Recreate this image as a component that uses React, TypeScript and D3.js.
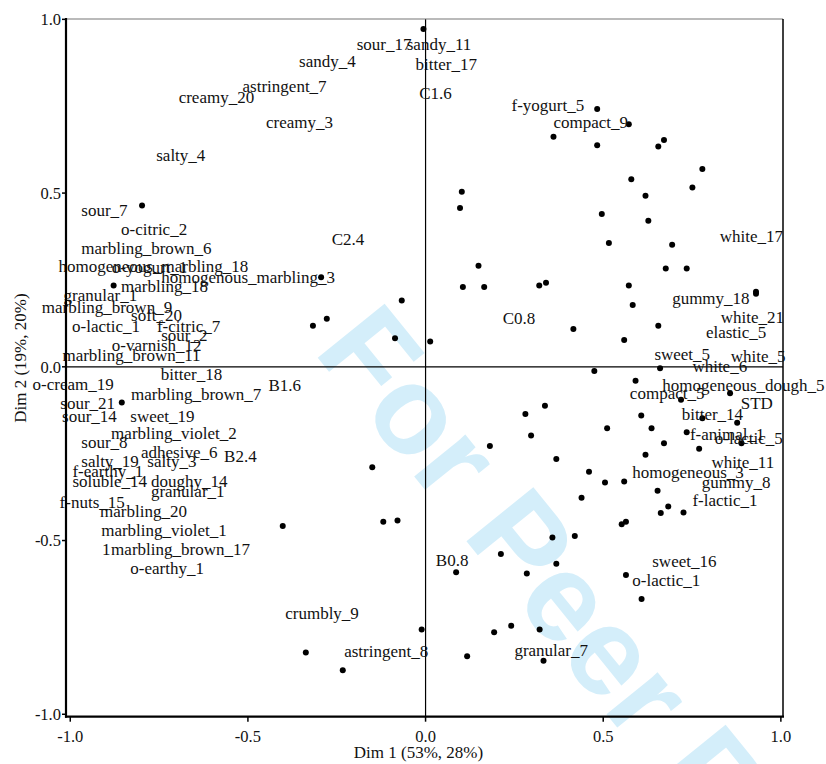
import React from 'react'
import * as d3 from 'd3'

// variable labels (text position = left end of the baseline, in plot units)
const labelText = [
  'sour_17', 'sandy_11', 'bitter_17', 'C1.6', 'sandy_4', 'astringent_7', 'creamy_20', 'creamy_3',
  'salty_4', 'f-yogurt_5', 'compact_9', 'sour_7', 'o-citric_2', 'marbling_brown_6',
  'homogeneous_marbling_18', 'o-yogurt_1', 'homogenous_marbling_3', 'marbling_18', 'granular_1',
  'marbling_brown_9', 'soft_20', 'o-lactic_1', 'f-citric_7', 'sour_2', 'o-varnish_12',
  'marbling_brown_11', 'C2.4', 'bitter_18', 'o-cream_19', 'marbling_brown_7', 'B1.6', 'sour_21',
  'sour_14', 'sweet_19', 'marbling_violet_2', 'sour_8', 'adhesive_6', 'B2.4', 'salty_19', 'salty_3',
  'f-earthy_1', 'soluble_14', 'doughy_14', 'granular_1', 'f-nuts_15', 'marbling_20',
  'marbling_violet_1', '1', 'marbling_brown_17', 'o-earthy_1', 'crumbly_9', 'astringent_8', 'B0.8',
  'sweet_16', 'o-lactic_1', 'granular_7', 'white_17', 'gummy_18', 'C0.8', 'white_21', 'elastic_5',
  'sweet_5', 'white_5', 'white_6', 'homogeneous_dough_5', 'compact_5', 'STD', 'bitter_14',
  'f-animal_1', 'o-lactic_5', 'white_11', 'homogeneous_3', 'gummy_8', 'f-lactic_1',
]
const labelDim1 = [
  -0.194, -0.053, -0.028, -0.018, -0.356, -0.515, -0.695, -0.449,
  -0.758, 0.242, 0.360, -0.969, -0.857, -0.969,
  -1.033, -0.883, -0.744, -0.857, -1.019,
  -1.080, -0.829, -0.995, -0.756, -0.744, -0.883,
  -1.022, -0.264, -0.745, -1.106, -0.829, -0.442, -1.028,
  -1.023, -0.831, -0.885, -0.969, -0.801, -0.567, -0.969, -0.783,
  -0.994, -0.994, -0.773, -0.773, -1.030, -0.916,
  -0.913, -0.911, -0.885, -0.831, -0.395, -0.229, 0.029,
  0.638, 0.582, 0.250, 0.828, 0.694, 0.217, 0.831, 0.789,
  0.644, 0.859, 0.751, 0.666, 0.575, 0.887, 0.721,
  0.744, 0.814, 0.805, 0.582, 0.777, 0.751,
]
const labelDim2 = [
  0.912, 0.912, 0.855, 0.771, 0.864, 0.791, 0.759, 0.688,
  0.591, 0.735, 0.687, 0.435, 0.380, 0.324,
  0.274, 0.269, 0.241, 0.215, 0.190,
  0.154, 0.133, 0.101, 0.101, 0.073, 0.046,
  0.018, 0.351, -0.038, -0.066, -0.095, -0.069, -0.122,
  -0.159, -0.159, -0.208, -0.234, -0.263, -0.273, -0.287, -0.287,
  -0.318, -0.345, -0.345, -0.375, -0.407, -0.431,
  -0.487, -0.541, -0.541, -0.596, -0.726, -0.836, -0.572,
  -0.575, -0.630, -0.831, 0.360, 0.180, 0.123, 0.127, 0.082,
  0.020, 0.015, -0.014, -0.069, -0.093, -0.122, -0.153,
  -0.210, -0.223, -0.292, -0.321, -0.348, -0.402,
]

// observations
const pointDim1 = [
  -0.006, 0.483, 0.572, 0.360, 0.483, 0.671, 0.655, 0.779, 0.579, 0.751,
  0.619, 0.102, 0.097, 0.496, 0.627, 0.516, 0.694, 0.149, 0.676, 0.735,
  0.105, 0.165, 0.320, 0.339, 0.572, 0.930, 0.930, -0.067, 0.583, 0.416,
  0.655, 0.013, 0.559, 0.475, 0.660, -0.798, -0.294, -0.878, -0.278, -0.317,
  -0.086, -0.855, -0.150, -0.402, -0.119, -0.079, -0.337, -0.233, -0.011, 0.181,
  0.086, 0.193, 0.117, 0.212, 0.368, 0.285, 0.564, 0.608, 0.241, 0.321,
  0.332, 0.591, 0.857, 0.719, 0.336, 0.281, 0.607, 0.779, 0.877, 0.511,
  0.636, 0.735, 0.297, 0.671, 0.889, 0.770, 0.619, 0.368, 0.460, 0.505,
  0.559, 0.439, 0.653, 0.683, 0.726, 0.662, 0.564, 0.552, 0.420, 0.357,
]
const pointDim2 = [
  0.972, 0.742, 0.698, 0.662, 0.638, 0.653, 0.634, 0.569, 0.540, 0.516,
  0.492, 0.504, 0.457, 0.440, 0.420, 0.356, 0.351, 0.291, 0.283, 0.283,
  0.230, 0.230, 0.234, 0.242, 0.234, 0.216, 0.210, 0.191, 0.178, 0.109,
  0.118, 0.073, 0.077, -0.012, -0.004, 0.464, 0.258, 0.234, 0.138, 0.118,
  0.082, -0.103, -0.289, -0.458, -0.446, -0.442, -0.822, -0.873, -0.756, -0.228,
  -0.591, -0.764, -0.833, -0.539, -0.567, -0.595, -0.599, -0.668, -0.745, -0.756,
  -0.846, -0.040, -0.076, -0.095, -0.112, -0.136, -0.140, -0.148, -0.161, -0.177,
  -0.177, -0.188, -0.198, -0.220, -0.220, -0.236, -0.253, -0.265, -0.302, -0.333,
  -0.330, -0.377, -0.357, -0.402, -0.419, -0.421, -0.446, -0.453, -0.487, -0.491,
]

const tickValues = [-1, -0.5, 0, 0.5, 1]
const xTitle = 'Dim 1 (53%, 28%)'
const yTitle = 'Dim 2 (19%, 20%)'
const watermark = 'For Peer Review'

function App() {
  const width = 826
  const height = 764
  const margin = { top: 19, right: 43, bottom: 47.3, left: 66 }
  const serif = "'Liberation Serif', 'Times New Roman', serif"

  const x = d3.scaleLinear().domain([-1.012, 1.006]).range([margin.left, width - margin.right])
  const y = d3.scaleLinear().domain([-1.007, 1.001]).range([height - margin.bottom, margin.top])
  const [x0, x1] = x.range()
  const [y0, y1] = y.range()

  return (
    <svg width={width} height={height} style={{ position: 'absolute', left: 0, top: 0 }} fontFamily={serif}>
      <rect width={width} height={height} fill="#fff" />

      {/* watermark behind everything */}
      <text
        transform={`translate(${x(-0.318)} ${y(0.045)}) rotate(51)`}
        fontFamily="'Liberation Sans', Arial, sans-serif"
        fontWeight="bold"
        fontSize={125}
        fill="#d4eefa"
      >{watermark}</text>

      {/* zero lines and light frame */}
      <line x1={x(0)} x2={x(0)} y1={y1} y2={y0} stroke="#000" strokeWidth={1.2} />
      <line x1={x0} x2={x1} y1={y(0)} y2={y(0)} stroke="#000" strokeWidth={1.2} />
      <line x1={x0} x2={x1} y1={y1} y2={y1} stroke="#777" strokeWidth={1.2} />
      <line x1={x1} x2={x1} y1={y1} y2={y0} stroke="#000" strokeWidth={1.5} />

      {pointDim1.map((d, i) => (
        <circle key={i} cx={x(d)} cy={y(pointDim2[i])} r={3} fill="#000" />
      ))}

      {labelText.map((t, i) => (
        <text key={i} x={x(labelDim1[i])} y={y(labelDim2[i])} fontSize={17} fill="#111">{t}</text>
      ))}

      {/* axes */}
      <line x1={x0} x2={x0} y1={y1 - 1} y2={y0 + 1} stroke="#000" strokeWidth={2.2} />
      <line x1={x0 - 1} x2={x1 + 1} y1={y0} y2={y0} stroke="#000" strokeWidth={2.2} />
      {tickValues.map(t => (
        <g key={'x' + t} transform={`translate(${x(t)} ${y0})`}>
          <line y2={5} stroke="#000" strokeWidth={1.5} />
          <text y={25} textAnchor="middle" fontSize={16.5} fill="#111">{t.toFixed(1)}</text>
        </g>
      ))}
      {tickValues.map(t => (
        <g key={'y' + t} transform={`translate(${x0} ${y(t)})`}>
          <line x2={-4} stroke="#000" strokeWidth={1.5} />
          <text x={-5} dy="0.35em" textAnchor="end" fontSize={16.5} fill="#111">{t.toFixed(1)}</text>
        </g>
      ))}

      <text x={x(-0.02)} y={758} textAnchor="middle" fontSize={17} fill="#111">{xTitle}</text>
      <text transform={`translate(26 ${y(0.025)}) rotate(-90)`} textAnchor="middle" fontSize={17} fill="#111">{yTitle}</text>
    </svg>
  )
}

export default App
